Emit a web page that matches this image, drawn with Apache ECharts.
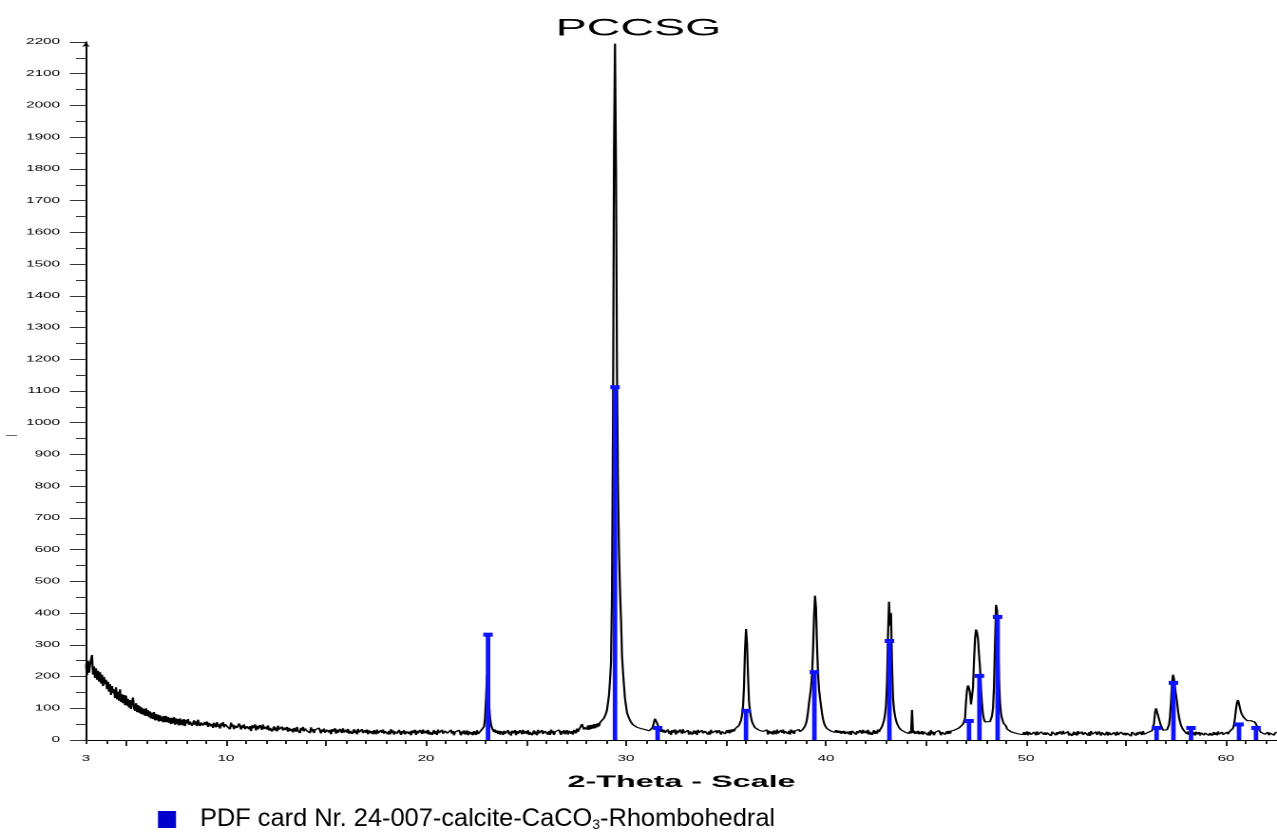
<!DOCTYPE html>
<html>
<head>
<meta charset="utf-8">
<title>PCCSG</title>
<script src="https://cdn.jsdelivr.net/npm/echarts@6/dist/echarts.min.js"></script>
<style>
  html, body { margin: 0; padding: 0; background: #fff; overflow: hidden; }
  #chart { width: 672px; height: 832px; transform-origin: 0 0; }
</style>
</head>
<body>
<div id="chart"></div>
<script>
// Powder diffraction scan: counts sampled from 3.00 to 62.55 deg 2-theta in 0.05 deg steps
const scanStart = 3.0;
const scanStep = 0.05;
const counts = [
  238,205,250,212,236,254,268,206,232,196,226,190,218,184,214,178,206,170,199,176, // 3
  190,160,184,152,176,142,170,148,160,132,166,128,152,124,160,120,144,116,142,110, // 4
  140,108,130,102,126,98,120,134,100,92,116,88,110,86,106,82,102,80,98,76,         // 5
  100,76,94,72,90,68,86,66,88,62,82,62,80,58,78,60,74,56,76,56,                    // 6
  76,56,72,54,70,50,70,52,72,48,68,50,66,46,68,48,64,46,66,44,                     // 7
  63,52,66,48,58,64,45,52,62,48,59,44,64,51,44,55,61,46,40,57,                     // 8
  47,58,41,54,59,43,51,38,54,51,40,56,42,49,36,53,44,56,40,50,                     // 9
  54,43,37,49,34,55,41,49,34,45,51,38,36,52,45,33,46,38,49,34,                     // 10
  33,43,49,34,44,28,46,37,42,49,30,45,34,28,47,40,32,49,35,33,                     // 11
  42,33,46,30,38,44,27,33,43,30,39,27,45,33,28,37,42,30,24,39,                     // 12
  31,41,26,38,43,28,35,24,38,36,26,41,29,34,22,38,30,41,27,36,                     // 13
  39,29,24,35,22,40,27,35,22,32,37,26,25,38,32,21,33,26,36,23,                     // 14
  23,32,37,24,32,18,34,26,31,37,20,33,23,18,35,29,22,37,24,23,                     // 15
  32,23,35,20,29,35,19,24,34,22,30,18,35,24,19,29,34,22,17,31,                     // 16
  23,33,18,30,34,21,28,18,31,29,18,33,21,27,16,31,23,33,20,28,                     // 17
  33,23,18,29,17,34,22,30,17,27,31,20,19,32,27,16,28,21,31,18,                     // 18
  18,27,32,19,27,15,30,22,27,32,16,29,21,16,32,26,19,33,21,20,                     // 19
  29,20,32,17,26,32,16,21,31,19,28,16,33,22,17,27,32,20,15,29,                     // 20
  31,21,16,27,15,32,20,28,15,25,30,19,18,31,26,15,27,20,30,17,                     // 21
  20,30,15,27,31,18,25,15,28,26,16,31,19,25,19,30,27,35,42,68,                     // 22
  130,205,190,115,70,48,38,34,25,33,22,30,19,29,17,28,22,16,29,20,                 // 23
  17,26,31,18,26,14,29,21,26,31,15,28,20,15,31,25,18,32,20,19,                     // 24
  28,19,31,16,25,31,15,20,30,18,27,15,32,21,16,26,31,19,14,28,                     // 25
  32,22,17,28,16,33,21,29,16,26,31,20,19,32,27,16,28,21,31,18,                     // 26
  23,31,17,29,34,20,28,17,32,30,21,36,26,33,28,38,50,40,33,40,                     // 27
  42,33,46,32,47,34,48,36,50,37,51,40,53,43,55,49,61,57,69,74,                     // 28
  84,95,118,142,188,245,470,1000,1850,2195,1800,1150,800,590,470,380,265,215,170,130, // 29
  108,86,83,69,67,56,57,48,49,43,45,40,43,38,41,36,39,33,37,33,                    // 30
  35,31,34,29,32,30,37,44,57,67,72,61,46,36,33,26,34,24,32,23,                     // 31
  19,28,33,20,28,16,31,23,28,33,17,30,22,17,33,27,20,34,22,21,                     // 32
  28,21,31,17,27,31,17,20,30,19,29,16,32,23,17,26,31,21,16,28,                     // 33
  31,23,17,27,17,32,22,28,16,27,30,21,19,31,28,17,27,22,30,19,                     // 34
  20,31,22,32,21,33,25,34,27,35,30,38,37,46,49,62,78,104,170,285,                  // 35
  350,305,205,122,90,71,58,50,46,39,40,33,35,31,33,28,32,27,30,25,                 // 36
  22,32,17,29,33,20,27,17,30,28,18,33,21,27,16,31,23,33,20,28,                     // 37
  32,22,19,29,17,33,22,30,19,29,27,25,24,33,26,32,31,34,36,44,                     // 38
  52,66,88,118,140,165,205,280,390,455,415,300,210,160,132,108,84,66,54,45,        // 39
  43,36,38,31,37,28,34,26,33,24,31,23,30,22,29,20,28,21,29,19,                     // 40
  19,26,31,18,28,16,29,23,26,31,17,28,21,17,31,25,20,32,22,19,                     // 41
  29,20,32,17,26,32,16,21,31,19,29,20,33,25,32,31,42,45,62,80,                     // 42
  110,180,330,436,360,400,240,132,96,76,62,52,46,39,38,32,33,27,32,25,             // 43
  30,22,29,20,28,21,95,22,29,19,27,20,29,18,26,19,28,17,26,20,                     // 44
  30,20,15,26,14,31,19,26,15,24,28,19,18,30,25,15,25,19,28,17,                     // 45
  20,28,19,29,20,28,24,30,25,32,27,34,30,38,35,43,42,50,55,68,                     // 46
  120,158,172,163,148,112,108,165,250,318,348,338,318,270,228,160,112,80,65,57,    // 47
  54,52,55,56,58,64,76,100,170,300,426,410,330,190,118,82,68,58,51,46,             // 48
  44,35,38,30,34,26,30,24,29,22,27,20,26,19,25,18,24,17,25,16,                     // 49
  19,27,15,25,28,17,22,14,25,23,15,27,17,22,13,26,20,28,17,24,                     // 50
  16,23,27,17,24,13,26,20,23,28,15,25,18,14,27,22,17,29,19,17,                     // 51
  24,16,27,14,21,26,13,18,26,16,24,14,28,19,14,22,26,16,12,24,                     // 52
  26,19,14,24,13,28,18,24,14,21,26,16,16,27,22,14,24,18,26,15,                     // 53
  18,26,14,24,27,16,21,13,24,22,14,26,16,21,12,25,19,27,16,23,                     // 54
  15,22,26,16,23,12,25,19,22,27,14,24,17,13,26,21,16,28,18,16,                     // 55
  22,16,24,18,23,24,29,33,52,86,100,88,78,66,55,45,39,31,31,27,                    // 56
  30,32,36,48,75,120,178,206,192,165,142,120,92,72,57,46,41,33,32,26,              // 57
  28,19,27,16,25,15,26,17,24,14,26,18,16,25,14,23,17,26,15,22,                     // 58
  23,17,26,14,22,25,14,19,25,16,23,15,27,18,15,21,25,17,13,23,                     // 59
  19,25,18,25,22,28,30,37,48,70,98,118,126,114,100,88,80,74,70,66,                 // 60
  64,61,60,58,59,61,64,66,62,56,50,44,38,33,28,24,25,19,26,18,                     // 61
  23,16,25,15,22,26,17,23,15,22,18,25                                              // 62
];

// Reference card lines (calcite, CaCO3): positions in deg 2-theta and their drawn heights
const stickTheta  = [23.10, 29.45, 31.58, 36.00, 39.42, 43.17, 47.15, 47.67, 48.58, 56.53, 57.37, 58.25, 60.65, 61.50];
const stickCounts = [332, 1112, 38, 92, 214, 312, 60, 202, 388, 38, 180, 38, 49, 38];

// Axis ticks and labels
const xLabelValues = [3, 10, 20, 30, 40, 50, 60];
const xMajorTicks = [5, 10, 15, 20, 25, 30, 35, 40, 45, 50, 55, 60];
const xRange = [3, 62.55];
const yRange = [0, 2200];
const yStep = 100;

const titleText = 'PCCSG';
const xAxisTitle = '2-Theta - Scale';
const legendParts = ['PDF card Nr. 24-007-calcite-CaCO', '3', '-Rhombohedral'];

// The plot is laid out on a narrow canvas and widened horizontally to the page width
const pageWidth = 1277, pageHeight = 832;
const canvasWidth = 672;
const sx = pageWidth / canvasWidth;
const dom = document.getElementById('chart');
dom.style.transform = 'scaleX(' + sx + ')';

const font = "'Liberation Sans', Arial, Helvetica, sans-serif";
const stickColor = '#0f14ff';

const scanData = counts.map((c, i) => [+(scanStart + i * scanStep).toFixed(2), c]);
const stickData = stickTheta.map((t, i) => [t, stickCounts[i]]);

const chart = echarts.init(dom, null, { renderer: 'canvas', devicePixelRatio: 2, width: canvasWidth, height: pageHeight });

const option = {
  animation: false,
  backgroundColor: '#ffffff',
  title: {
    text: titleText,
    left: 'center',
    top: 16,
    padding: 0,
    textStyle: { fontFamily: font, fontSize: 24.5, fontWeight: 'normal', color: '#000' }
  },
  grid: {
    left: 86 / sx,
    right: 0,
    top: 42,
    bottom: pageHeight - 740,
    containLabel: false,
    outerBoundsMode: 'none'
  },
  xAxis: [
    {
      type: 'value',
      min: xRange[0],
      max: xRange[1],
      interval: 1,
      position: 'bottom',
      name: xAxisTitle,
      nameLocation: 'middle',
      nameGap: 34,
      nameTextStyle: { fontFamily: font, fontSize: 17, fontWeight: 'bold', color: '#000' },
      axisLine: { show: true, lineStyle: { color: '#000', width: 1 } },
      axisTick: { show: true, length: 4, lineStyle: { color: '#222', width: 1 } },
      axisLabel: {
        show: true,
        customValues: xLabelValues,
        margin: 15,
        fontFamily: font,
        fontSize: 8,
        color: '#000',
        formatter: (v) => String(v)
      },
      splitLine: { show: false }
    },
    {
      type: 'value',
      min: xRange[0],
      max: xRange[1],
      position: 'bottom',
      offset: 0,
      axisLine: { show: false },
      axisTick: { show: true, customValues: xMajorTicks, length: 6, lineStyle: { color: '#222', width: 1 } },
      axisLabel: { show: false },
      splitLine: { show: false }
    }
  ],
  yAxis: {
    type: 'value',
    min: yRange[0],
    max: yRange[1],
    interval: yStep,
    axisLine: {
      show: true,
      lineStyle: { color: '#000', width: 1 },
      symbol: ['none', 'arrow'],
      symbolSize: [3, 5]
    },
    axisTick: { show: true, length: 16 / sx, lineStyle: { color: '#333', width: 1 } },
    minorTick: { show: true, splitNumber: 2, length: 10 / sx, lineStyle: { color: '#333', width: 1 } },
    axisLabel: {
      show: true,
      interval: 0,
      margin: 13.7,
      fontFamily: font,
      fontSize: 8,
      color: '#000',
      formatter: (v) => String(v)
    },
    splitLine: { show: false },
    minorSplitLine: { show: false }
  },
  series: [
    {
      name: 'PCCSG',
      type: 'line',
      xAxisIndex: 0,
      data: scanData,
      showSymbol: false,
      symbol: 'none',
      sampling: null,
      clip: true,
      lineStyle: { color: '#000', width: 1.1 },
      z: 2
    },
    {
      name: 'calcite',
      type: 'custom',
      xAxisIndex: 0,
      data: stickData,
      encode: { x: 0, y: 1 },
      z: 3,
      renderItem: function (params, api) {
        const x = api.value(0);
        const v = api.value(1);
        const top = api.coord([x, v]);
        const base = api.coord([x, 0]);
        const sw = 4.5 / sx, cw = 9.5 / sx, ch = 4;
        return {
          type: 'group',
          children: [
            { type: 'rect', shape: { x: top[0] - sw / 2, y: top[1], width: sw, height: base[1] - top[1] }, style: { fill: stickColor } },
            { type: 'rect', shape: { x: top[0] - cw / 2, y: top[1] - ch / 2, width: cw, height: ch }, style: { fill: stickColor } }
          ]
        };
      }
    }
  ],
  graphic: [
    {
      // drawn in page units, so it keeps normal proportions after the horizontal widening
      type: 'group',
      x: 0,
      y: 0,
      scaleX: 1 / sx,
      children: [
        { type: 'line', shape: { x1: 6, y1: 435.5, x2: 17, y2: 435.5 }, style: { stroke: '#666', lineWidth: 1 } },
        { type: 'rect', shape: { x: 158, y: 811, width: 18, height: 17 }, style: { fill: '#0000cc' } },
        {
          type: 'text',
          x: 200,
          y: 806,
          style: {
            text: '{t|' + legendParts[0] + '}{s|' + legendParts[1] + '}{t|' + legendParts[2] + '}',
            align: 'left',
            verticalAlign: 'top',
            rich: {
              t: { fontFamily: font, fontSize: 25.4, lineHeight: 26, color: '#000' },
              s: { fontFamily: font, fontSize: 14, lineHeight: 16, verticalAlign: 'bottom', color: '#000' }
            }
          }
        }
      ]
    }
  ]
};

chart.setOption(option);
</script>
</body>
</html>
